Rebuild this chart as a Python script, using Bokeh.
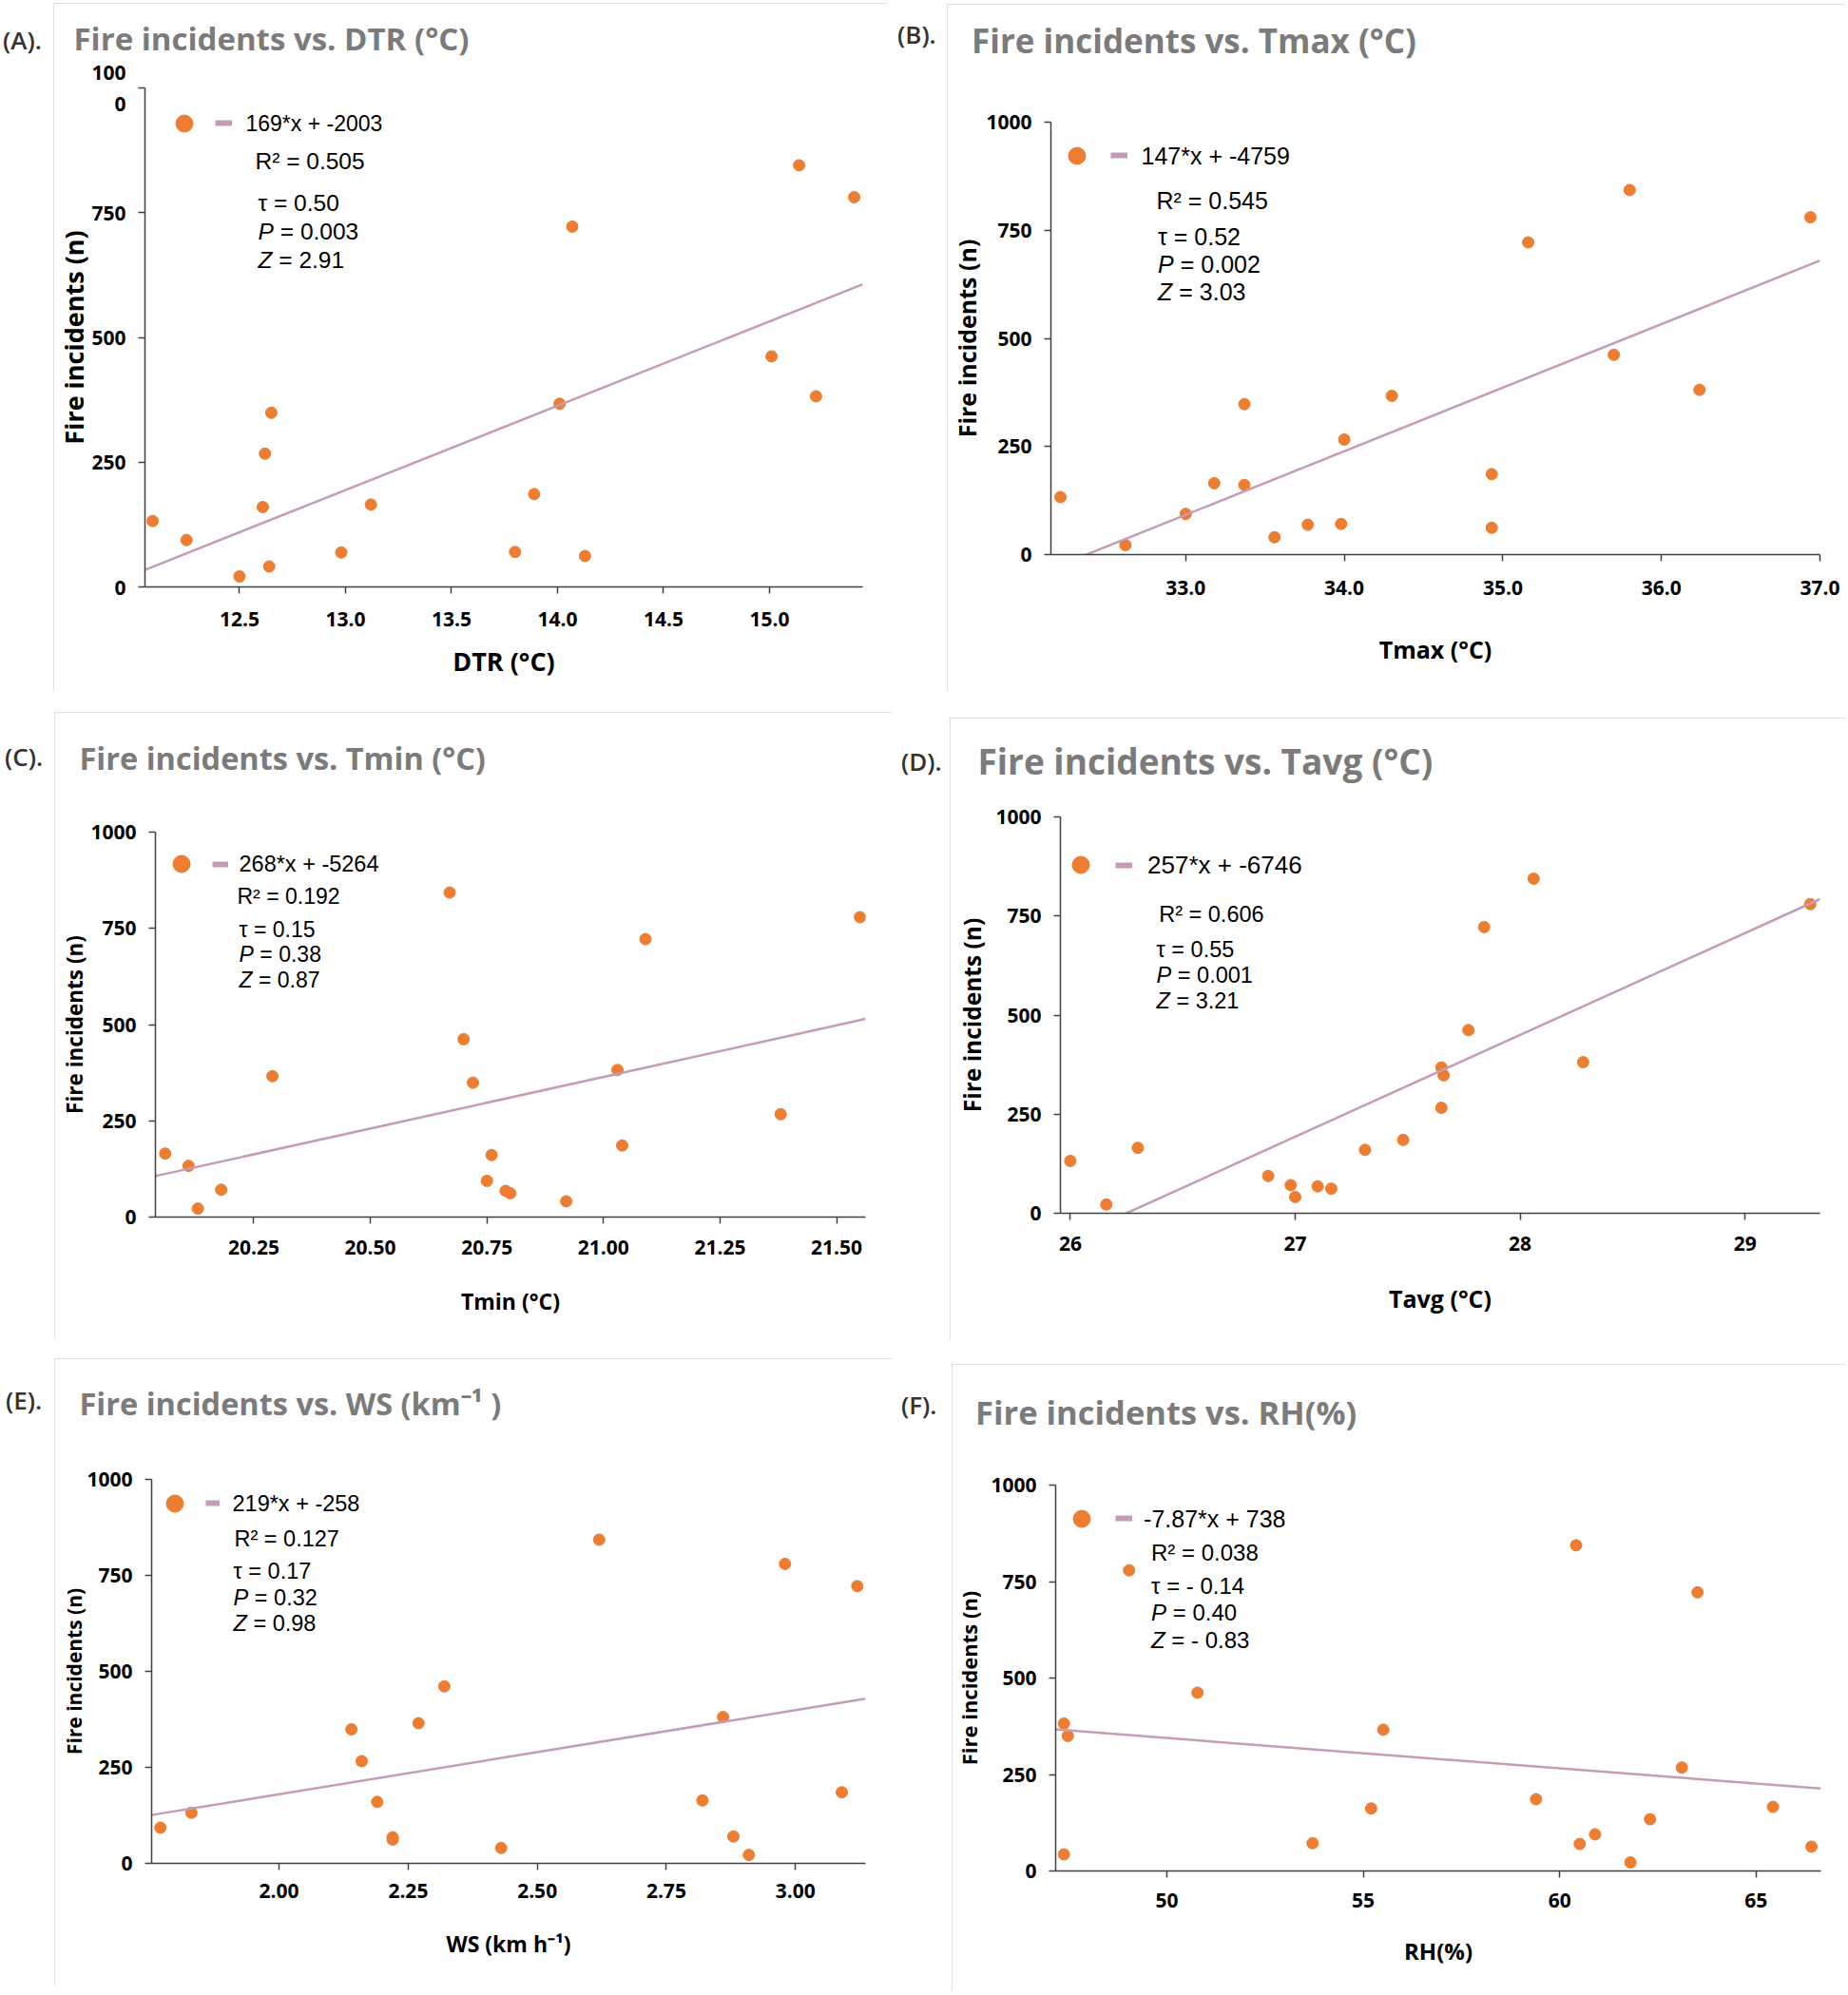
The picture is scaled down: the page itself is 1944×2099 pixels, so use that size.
from bokeh.plotting import figure
from bokeh.models import Range1d, FixedTicker, Label, Legend, LegendItem, Div, LinearAxis
from bokeh.layouts import row, column
from bokeh.embed import file_html
from bokeh.resources import INLINE

# ---------------- data ----------------
y_label = "Fire incidents (n)"
y_ticks = [0, 250, 500, 750, 1000]

# (A) DTR
dtr_x = [12.09, 12.25, 12.50, 12.61, 12.62, 12.64, 12.65, 12.98, 13.12, 13.80, 13.89, 14.01, 14.07, 14.13, 15.01, 15.14, 15.22, 15.40]
dtr_y = [132, 94, 21, 160, 267, 41, 349, 69, 165, 70, 186, 367, 722, 62, 462, 845, 382, 781]
dtr_ticks = [12.5, 13.0, 13.5, 14.0, 14.5, 15.0]
dtr_tick_labels = ["12.5", "13.0", "13.5", "14.0", "14.5", "15.0"]
dtr_fit = [169, -2003]
dtr_stats = ["169*x + -2003", "0.505", "0.50", "0.003", "2.91"]

# (B) Tmax
tmax_x = [32.21, 32.62, 33.00, 33.18, 33.37, 33.37, 33.56, 33.77, 33.98, 34.00, 34.30, 34.93, 34.93, 35.16, 35.70, 35.80, 36.24, 36.94]
tmax_y = [133, 22, 94, 165, 348, 161, 40, 69, 71, 266, 367, 186, 62, 722, 462, 843, 381, 780]
tmax_ticks = [33.0, 34.0, 35.0, 36.0, 37.0]
tmax_tick_labels = ["33.0", "34.0", "35.0", "36.0", "37.0"]
tmax_fit = [147, -4759]
tmax_stats = ["147*x + -4759", "0.545", "0.52", "0.002", "3.03"]

# (C) Tmin
tmin_x = [20.06, 20.11, 20.13, 20.18, 20.29, 20.67, 20.70, 20.72, 20.75, 20.76, 20.79, 20.80, 20.92, 21.03, 21.04, 21.09, 21.38, 21.55]
tmin_y = [165, 133, 22, 71, 366, 843, 462, 349, 94, 161, 68, 62, 41, 382, 186, 722, 267, 779]
tmin_ticks = [20.25, 20.50, 20.75, 21.00, 21.25, 21.50]
tmin_tick_labels = ["20.25", "20.50", "20.75", "21.00", "21.25", "21.50"]
tmin_fit = [268, -5264]
tmin_stats = ["268*x + -5264", "0.192", "0.15", "0.38", "0.87"]

# (D) Tavg
tavg_x = [26.00, 26.16, 26.30, 26.88, 26.98, 27.00, 27.10, 27.16, 27.31, 27.48, 27.65, 27.65, 27.66, 27.77, 27.84, 28.06, 28.28, 29.29]
tavg_y = [132, 22, 165, 94, 71, 41, 68, 62, 160, 185, 266, 368, 348, 462, 722, 844, 381, 780]
tavg_ticks = [26, 27, 28, 29]
tavg_tick_labels = ["26", "27", "28", "29"]
tavg_fit = [257, -6746]
tavg_stats = ["257*x + -6746", "0.606", "0.55", "0.001", "3.21"]

# (E) WS
ws_x = [1.77, 1.83, 2.14, 2.16, 2.19, 2.22, 2.22, 2.27, 2.32, 2.43, 2.62, 2.82, 2.86, 2.88, 2.91, 2.98, 3.09, 3.12]
ws_y = [93, 132, 349, 266, 160, 68, 62, 365, 461, 40, 843, 164, 381, 70, 22, 780, 185, 722]
ws_ticks = [2.00, 2.25, 2.50, 2.75, 3.00]
ws_tick_labels = ["2.00", "2.25", "2.50", "2.75", "3.00"]
ws_fit = [219, -258]
ws_stats = ["219*x + -258", "0.127", "0.17", "0.32", "0.98"]

# (F) RH
rh_x = [47.38, 47.48, 47.38, 49.04, 50.78, 53.71, 55.20, 55.51, 59.40, 60.42, 60.51, 60.90, 61.80, 62.30, 63.11, 63.51, 65.43, 66.41]
rh_y = [382, 350, 43, 779, 462, 72, 162, 366, 186, 844, 70, 95, 22, 134, 268, 722, 166, 63]
rh_ticks = [50, 55, 60, 65]
rh_tick_labels = ["50", "55", "60", "65"]
rh_fit = [-7.87, 738]
rh_stats = ["-7.87*x + 738", "0.038", "- 0.14", "0.40", "- 0.83"]

# ---------------- styling / layout (page pixel positions) ----------------
ORANGE = "#ED7D31"
TREND = "#c59cb8"
AXIS = "#404040"
TITLE_GRAY = "#7b7b7b"
BOX = "#d4d4d4"

panels = [
    dict(tag="(A).", title="Fire incidents vs. DTR (°C)", xlabel="DTR (°C)",
         x=dtr_x, y=dtr_y, ticks=dtr_ticks, tlabels=dtr_tick_labels, fit=dtr_fit, stats=dtr_stats,
         xr=(12.054, 15.44), box=(56, 3, 933, 727), frame=(151, 92, 907, 617),
         tag_xy=(3, 42), title_xy=(78, 43), title_fs=33,
         dot=(192, 129), line=(225, 243), eqx=257, r2=(267, 169), tx=270, ty=(213, 242.5, 272.5),
         eq_fs=23, st_fs=24.5, yl_fs=27, xl_fs=27, yl_so=-3, xt_so=19, xl_so=15, ytick_over={1000: "100\n0"}),
    dict(tag="(B).", title="Fire incidents vs. Tmax (°C)", xlabel="Tmax (°C)",
         x=tmax_x, y=tmax_y, ticks=tmax_ticks, tlabels=tmax_tick_labels, fit=tmax_fit, stats=tmax_stats,
         xr=(32.15, 37.0), box=(996, 4, 1941, 728), frame=(1105, 128, 1914, 583),
         tag_xy=(944, 36), title_xy=(1023.5, 45), title_fs=35,
         dot=(1132, 163), line=(1168, 1186), eqx=1200, r2=(1216, 210.5), tx=1217.5, ty=(248, 277.5, 306.5),
         eq_fs=25, st_fs=25, yl_fs=25, xl_fs=25, yl_so=0, xt_so=20, xl_so=37, ytick_over={}),
    dict(tag="(C).", title="Fire incidents vs. Tmin (°C)", xlabel="Tmin (°C)",
         x=tmin_x, y=tmin_y, ticks=tmin_ticks, tlabels=tmin_tick_labels, fit=tmin_fit, stats=tmin_stats,
         xr=(20.039, 21.562), box=(57, 749, 938, 1409), frame=(163, 875, 910, 1280),
         tag_xy=(5, 796.5), title_xy=(85, 801), title_fs=32.5,
         dot=(190, 908.7), line=(223, 240), eqx=251, r2=(249, 942.5), tx=251, ty=(977.5, 1003.5, 1030.5),
         eq_fs=23.5, st_fs=23, yl_fs=22.5, xl_fs=23, yl_so=-2, xt_so=17, xl_so=30, ytick_over={}),
    dict(tag="(D).", title="Fire incidents vs. Tavg (°C)", xlabel="Tavg (°C)",
         x=tavg_x, y=tavg_y, ticks=tavg_ticks, tlabels=tavg_tick_labels, fit=tavg_fit, stats=tavg_stats,
         xr=(25.956, 29.333), box=(999, 755, 1942, 1409), frame=(1115, 859, 1914, 1276),
         tag_xy=(948, 800.6), title_xy=(1030, 804), title_fs=37,
         dot=(1136, 909.6), line=(1173, 1191), eqx=1206.5, r2=(1218.7, 961), tx=1216, ty=(998.5, 1025.5, 1052.5),
         eq_fs=26, st_fs=23.5, yl_fs=24.5, xl_fs=25, yl_so=5, xt_so=17, xl_so=30, ytick_over={}),
    dict(tag="(E).", title="Fire incidents vs. WS (km⁻¹ )", xlabel="WS (km h⁻¹)",
         x=ws_x, y=ws_y, ticks=ws_ticks, tlabels=ws_tick_labels, fit=ws_fit, stats=ws_stats,
         xr=(1.753, 3.136), box=(57, 1429, 938, 2090), frame=(159, 1556, 910, 1960),
         tag_xy=(6, 1473), title_xy=(85, 1480), title_fs=32.5,
         dot=(183, 1581), line=(216, 231), eqx=244, r2=(246, 1618), tx=245, ty=(1652.5, 1680, 1707.5),
         eq_fs=23.5, st_fs=23.5, yl_fs=21, xl_fs=23, yl_so=-4, xt_so=14, xl_so=29, ytick_over={}),
    dict(tag="(F).", title="Fire incidents vs. RH(%)", xlabel="RH(%)",
         x=rh_x, y=rh_y, ticks=rh_ticks, tlabels=rh_tick_labels, fit=rh_fit, stats=rh_stats,
         xr=(47.17, 66.65), box=(1001, 1435, 1942, 2094), frame=(1109, 1562, 1915, 1968),
         tag_xy=(948, 1478), title_xy=(1026.6, 1488), title_fs=34.5,
         dot=(1136, 1597), line=(1172, 1190), eqx=1201.6, r2=(1209.5, 1632.5), tx=1209.5, ty=(1668, 1696, 1725),
         eq_fs=25, st_fs=24, yl_fs=22, xl_fs=24, yl_so=5, xt_so=16, xl_so=26, ytick_over={}),
]
row_tops = [0, 740, 1420]
row_heights = [740, 680, 675]


def make_panel(c, row_top):
    bx0, by0, bx1, by1 = c["box"]
    fx0, fy0, fx1, fy1 = c["frame"]
    L, R, T, B = fx0 - bx0, bx1 - fx1, fy0 - by0, by1 - fy1

    def scr(X, Y):  # page coords -> screen coords relative to frame bottom-left
        return X - fx0, fy1 - Y

    p = figure(width=bx1 - bx0, height=by1 - by0, x_range=Range1d(*c["xr"]), y_range=Range1d(0, 1000),
               output_backend="svg", toolbar_location=None,
               min_border_left=L, min_border_right=R, min_border_top=T, min_border_bottom=B,
               margin=(int(by0 - row_top), 0, 0, 0),
               styles={"outline": f"2px solid {BOX}", "outline-offset": "-2px"})
    try:
        p.frame_align = False
    except Exception:
        pass
    p.outline_line_color = None
    p.grid.visible = False

    # invisible spacer above the frame so the title sits at the right height
    fs_t = c["title_fs"]
    h_t = 1.25 * fs_t
    spacer = max(0, int(round((fy0 - c["title_xy"][1]) - (h_t + 2) / 2 - 1)))
    sp_axis = LinearAxis(ticker=FixedTicker(ticks=[]), axis_line_color=None,
                         major_tick_out=0, major_tick_in=0, minor_tick_out=0, minor_tick_in=0,
                         major_label_standoff=0, axis_label=" ", axis_label_text_font_size="1px",
                         axis_label_standoff=spacer)
    p.add_layout(sp_axis, "above")

    # title
    p.title.text = c["title"]
    p.title.align = "left"
    p.title.text_font = "Open Sans"
    p.title.text_font_style = "bold"
    p.title.text_font_size = f"{fs_t}px"
    p.title.text_color = TITLE_GRAY
    p.title.offset = c["title_xy"][0] - fx0 - 2
    p.title.standoff = 0

    # axes
    xa, ya = p.below[0], p.left[0]
    xa.ticker = FixedTicker(ticks=c["ticks"])
    xa.major_label_overrides = {t: s for t, s in zip(c["ticks"], c["tlabels"])}
    ya.ticker = FixedTicker(ticks=y_ticks)
    yo = {t: str(t) for t in y_ticks}
    yo.update(c["ytick_over"])
    ya.major_label_overrides = yo
    for ax in (xa, ya):
        ax.axis_line_color = AXIS
        ax.axis_line_width = 1.5
        ax.major_tick_line_color = AXIS
        ax.major_tick_line_width = 1.5
        ax.major_tick_out = 7
        ax.major_tick_in = 0
        ax.minor_tick_line_color = None
        ax.major_label_text_font = "Open Sans"
        ax.major_label_text_font_style = "bold"
        ax.major_label_text_font_size = "21px"
        ax.major_label_text_color = "black"
        ax.axis_label_text_font = "Open Sans"
        ax.axis_label_text_font_style = "bold"
        ax.axis_label_text_color = "black"
    xa.major_label_standoff = c["xt_so"]
    ya.major_label_standoff = 13
    xa.axis_label = c["xlabel"]
    xa.axis_label_text_font_size = f"{c['xl_fs']}px"
    xa.axis_label_standoff = c["xl_so"]
    ya.axis_label = y_label
    ya.axis_label_text_font_size = f"{c['yl_fs']}px"
    ya.axis_label_standoff = c["yl_so"]

    # data
    sc = p.scatter(c["x"], c["y"], size=12, fill_color=ORANGE, line_color=ORANGE)
    x0, x1 = c["xr"]
    m, b = c["fit"]
    xs_fit = [x0, x1]
    ys_fit = [m * x0 + b, m * x1 + b]
    p.line(xs_fit, ys_fit, line_color=TREND, line_width=2.5)
    # thicker copy of the trend line used only as the legend swatch
    tr_key = p.line(xs_fit, ys_fit, line_color=TREND, line_width=6, visible=False)

    def lab(X, Y, text, size, style="normal"):
        sx, sy = scr(X, Y)
        p.add_layout(Label(x=sx, y=sy, x_units="screen", y_units="screen", text=text,
                           text_font="Liberation Sans", text_font_style=style,
                           text_font_size=f"{size}px", text_color="black",
                           text_baseline="middle", text_align="left"))

    # legend: dot + line (glyph only), equation as text
    dx, dy = c["dot"]
    g = 45
    sx, sy = scr(dx - g / 2, dy + g / 2)
    p.add_layout(Legend(items=[LegendItem(label=" ", renderers=[sc])], location=(sx, sy),
                        glyph_width=g, glyph_height=g, label_width=0, label_height=g,
                        label_standoff=0, padding=0, spacing=0, margin=0,
                        border_line_color=None, background_fill_alpha=0,
                        label_text_font_size="1px"))
    lx0, lx1 = c["line"]
    gh = 20
    sx, sy = scr(lx0, dy + gh / 2)
    p.add_layout(Legend(items=[LegendItem(label=" ", renderers=[tr_key])], location=(sx, sy),
                        glyph_width=lx1 - lx0, glyph_height=gh, label_width=0, label_height=gh,
                        label_standoff=0, padding=0, spacing=0, margin=0,
                        border_line_color=None, background_fill_alpha=0,
                        inactive_fill_alpha=0, label_text_font_size="1px"))
    eq, r2, tau, pv, zv = c["stats"]
    lab(c["eqx"], dy, eq, c["eq_fs"])
    fs = c["st_fs"]
    lab(c["r2"][0], c["r2"][1], f"R² = {r2}", fs)
    tyt, typ, tyz = c["ty"]
    lab(c["tx"], tyt, f"τ = {tau}", fs)
    lab(c["tx"], typ, "P", fs, style="italic")
    lab(c["tx"] + 0.95 * fs, typ, f"= {pv}", fs)
    lab(c["tx"], tyz, "Z", fs, style="italic")
    lab(c["tx"] + 0.89 * fs, tyz, f"= {zv}", fs)
    return p


def tag_div(text, x_left, width, center_y, height):
    html = ('<div style="padding-left:%dpx; padding-top:%dpx; font-family:\'Open Sans\'; '
            'font-size:26px; font-weight:600; line-height:32px; color:#333333; white-space:nowrap;">%s</div>'
            % (x_left, int(round(center_y - 16)), text))
    return Div(text=html, width=width, height=height, margin=0)


rows = []
for r in range(3):
    cl, cr = panels[2 * r], panels[2 * r + 1]
    top, h = row_tops[r], row_heights[r]
    pl = make_panel(cl, top)
    pr = make_panel(cr, top)
    d_left = tag_div(cl["tag"], cl["tag_xy"][0], cl["box"][0], cl["tag_xy"][1] - top, h)
    gap_w = cr["box"][0] - cl["box"][2]
    d_right = tag_div(cr["tag"], cr["tag_xy"][0] - cl["box"][2], gap_w, cr["tag_xy"][1] - top, h)
    rows.append(row(d_left, pl, d_right, pr))

layout = column(*rows)
open("out.html", "w").write(file_html(layout, INLINE))
